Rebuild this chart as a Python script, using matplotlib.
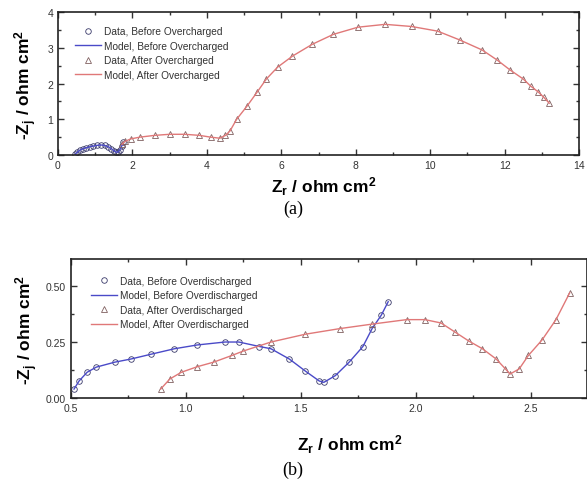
import numpy as np
import matplotlib
matplotlib.use("Agg")
import matplotlib.pyplot as plt
from matplotlib.ticker import MultipleLocator, FormatStrFormatter

plt.rcParams['font.family'] = ['Liberation Sans', 'DejaVu Sans']
plt.rcParams['mathtext.fontset'] = 'custom'
plt.rcParams['mathtext.rm'] = 'Liberation Sans:bold'
plt.rcParams['mathtext.bf'] = 'Liberation Sans:bold'
plt.rcParams['mathtext.it'] = 'Liberation Sans:bold'

# (a) before / after overcharged
zr_a_before = [0.46, 0.52, 0.58, 0.66, 0.75, 0.85, 0.95, 1.05, 1.15, 1.25, 1.35, 1.43, 1.50, 1.56, 1.61, 1.66, 1.71, 1.76]
zi_a_before = [0.02, 0.08, 0.13, 0.17, 0.20, 0.23, 0.25, 0.27, 0.28, 0.27, 0.23, 0.18, 0.12, 0.08, 0.08, 0.14, 0.25, 0.36]
zr_a_after = [1.72, 1.80, 1.95, 2.2, 2.6, 3.0, 3.4, 3.8, 4.1, 4.35, 4.5, 4.62, 4.8, 5.08, 5.35, 5.6, 5.9,
              6.3, 6.83, 7.4, 8.06, 8.79, 9.5, 10.2, 10.8, 11.4, 11.8, 12.15, 12.5, 12.7, 12.9, 13.05, 13.2]
zi_a_after = [0.30, 0.38, 0.45, 0.50, 0.55, 0.58, 0.58, 0.55, 0.50, 0.47, 0.55, 0.67, 1.0, 1.37, 1.76, 2.13, 2.46,
              2.77, 3.10, 3.38, 3.58, 3.66, 3.60, 3.47, 3.22, 2.94, 2.66, 2.38, 2.13, 1.93, 1.77, 1.62, 1.45]

# (b) before / after overdischarged
zr_b_before = [0.513, 0.535, 0.57, 0.61, 0.69, 0.76, 0.85, 0.95, 1.05, 1.17, 1.23, 1.32, 1.37, 1.45,
               1.52, 1.58, 1.60, 1.65, 1.71, 1.77, 1.81, 1.85, 1.88]
zi_b_before = [0.04, 0.076, 0.115, 0.138, 0.16, 0.174, 0.196, 0.22, 0.237, 0.25, 0.25, 0.23, 0.22, 0.174,
               0.12, 0.076, 0.07, 0.10, 0.16, 0.23, 0.31, 0.37, 0.43]
zr_b_after = [0.89, 0.93, 0.98, 1.05, 1.12, 1.20, 1.25, 1.37, 1.52, 1.67, 1.81, 1.96, 2.04, 2.11, 2.17,
              2.23, 2.29, 2.35, 2.39, 2.41, 2.45, 2.49, 2.55, 2.61, 2.67]
zi_b_after = [0.04, 0.085, 0.115, 0.14, 0.16, 0.19, 0.21, 0.25, 0.285, 0.31, 0.33, 0.35, 0.35, 0.335, 0.295,
              0.255, 0.22, 0.174, 0.13, 0.107, 0.13, 0.19, 0.26, 0.35, 0.47]

blue = '#4a4ac8'
red = '#e07878'
circ = '#3a3a6a'
tri = '#806060'
txt = '#333333'

fig = plt.figure(figsize=(5.87, 4.89), dpi=100)
ax1 = fig.add_axes([0.0988, 0.681, 0.8876, 0.292])
ax2 = fig.add_axes([0.121, 0.184, 0.879, 0.284])

ylab = r'-Z$_\mathrm{j}$ / ohm cm$^\mathrm{2}$'
xlab = r'Z$_\mathrm{r}$ / ohm cm$^\mathrm{2}$'


def panel(ax, zr1, zi1, zr2, zi2, tag, anchor):
    ax.plot(zr1, zi1, 'o', mfc='none', mec=circ, ms=4, mew=0.6, label='Data, Before ' + tag)
    ax.plot(zr1, zi1, '-', color=blue, lw=1.0, label='Model, Before ' + tag)
    ax.plot(zr2, zi2, '^', mfc='none', mec=tri, ms=4, mew=0.6, label='Data, After ' + tag)
    ax.plot(zr2, zi2, '-', color=red, lw=1.0, label='Model, After ' + tag)
    ax.tick_params(which='both', direction='in', top=True, right=True, labelsize=7.5, colors=txt, width=1)
    ax.tick_params(which='major', length=4)
    ax.tick_params(which='minor', length=2.5)
    for s in ax.spines.values():
        s.set_linewidth(1.2)
        s.set_color('#222222')
    leg = ax.legend(loc='upper left', bbox_to_anchor=anchor, frameon=False, fontsize=7.3,
                    handlelength=2.6, handletextpad=0.3, labelspacing=0.45, borderaxespad=0.0)
    for t in leg.get_texts():
        t.set_color(txt)


panel(ax1, zr_a_before, zi_a_before, zr_a_after, zi_a_after, 'Overcharged', (0.025, 0.93))
ax1.set_xlim(0, 14)
ax1.set_ylim(0, 4)
ax1.xaxis.set_major_locator(MultipleLocator(2))
ax1.xaxis.set_minor_locator(MultipleLocator(1))
ax1.yaxis.set_major_locator(MultipleLocator(1))
ax1.yaxis.set_minor_locator(MultipleLocator(0.5))
ax1.set_ylabel(ylab, fontsize=12.5, fontweight='bold', labelpad=6)
ax1.set_xlabel(xlab, fontsize=12.5, fontweight='bold')
ax1.xaxis.set_label_coords(0.51, -0.135)

panel(ax2, zr_b_before, zi_b_before, zr_b_after, zi_b_after, 'Overdischarged', (0.03, 0.91))
ax2.set_xlim(0.5, 2.745)
ax2.set_ylim(0, 0.62)
ax2.xaxis.set_major_locator(MultipleLocator(0.5))
ax2.xaxis.set_minor_locator(MultipleLocator(0.25))
ax2.yaxis.set_major_locator(MultipleLocator(0.25))
ax2.yaxis.set_minor_locator(MultipleLocator(0.125))
ax2.xaxis.set_major_formatter(FormatStrFormatter('%.1f'))
ax2.yaxis.set_major_formatter(FormatStrFormatter('%.2f'))
ax2.set_ylabel(ylab, fontsize=12.5, fontweight='bold', labelpad=4)
ax2.set_xlabel(xlab, fontsize=12.5, fontweight='bold')
ax2.xaxis.set_label_coords(0.54, -0.25)

fig.text(0.499, 0.572, '(a)', ha='center', va='center', fontsize=13, family='Liberation Serif')
fig.text(0.499, 0.039, '(b)', ha='center', va='center', fontsize=13, family='Liberation Serif')

fig.savefig('out.png', dpi=100)
